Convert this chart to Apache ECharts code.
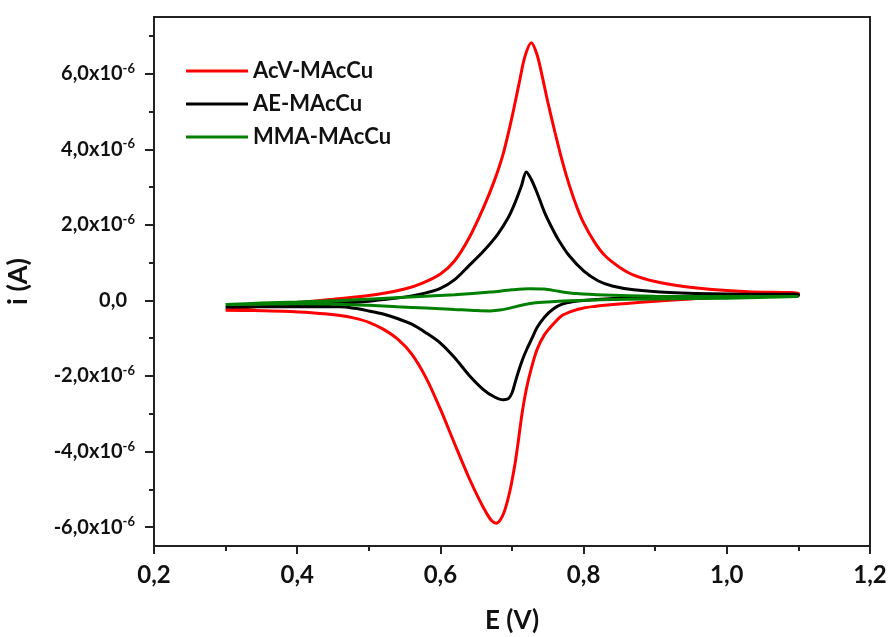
<!DOCTYPE html>
<html>
<head>
<meta charset="utf-8">
<script src="https://cdn.jsdelivr.net/npm/echarts@6/dist/echarts.min.js"></script>
<style>
html,body{margin:0;padding:0;background:#ffffff;}
#chart{width:890px;height:637px;}
</style>
</head>
<body>
<div id="chart"></div>
<script>
// ---- data (current in µA, potential in V) ----
const seriesNames = ['AcV-MAcCu', 'AE-MAcCu', 'MMA-MAcCu'];

// AcV-MAcCu : forward scan 0.3 -> 1.1 V, then reverse 1.1 -> 0.3 V
const acvE = [0.30,0.35,0.40,0.45,0.50,0.525,0.55,0.575,0.60,0.62,0.64,0.66,0.675,0.688,0.70,0.71,0.718,0.727,0.735,0.742,0.75,0.76,0.77,0.78,0.79,0.80,0.815,0.83,0.85,0.87,0.90,0.94,0.98,1.03,1.10,
  1.10,1.00,0.95,0.90,0.86,0.83,0.815,0.80,0.786,0.77,0.758,0.745,0.735,0.727,0.72,0.714,0.709,0.704,0.697,0.69,0.684,0.678,0.672,0.665,0.655,0.64,0.62,0.60,0.58,0.56,0.54,0.52,0.50,0.48,0.46,0.42,0.38,0.34,0.30];
const acvI = [-0.26,-0.15,-0.06,0.03,0.13,0.20,0.30,0.46,0.70,1.05,1.65,2.45,3.15,3.90,4.85,5.75,6.45,6.82,6.50,5.95,5.25,4.45,3.70,3.05,2.50,2.05,1.55,1.18,0.88,0.67,0.50,0.37,0.29,0.23,0.19,
  0.14,0.09,0.04,-0.02,-0.08,-0.13,-0.16,-0.20,-0.27,-0.40,-0.62,-0.92,-1.30,-1.80,-2.35,-3.00,-3.70,-4.35,-5.05,-5.55,-5.80,-5.90,-5.84,-5.65,-5.30,-4.70,-3.80,-2.88,-2.05,-1.42,-1.02,-0.76,-0.58,-0.47,-0.40,-0.33,-0.29,-0.27,-0.26];

// AE-MAcCu
const aeE = [0.30,0.35,0.40,0.45,0.50,0.53,0.56,0.58,0.60,0.62,0.64,0.66,0.68,0.695,0.705,0.713,0.72,0.727,0.735,0.745,0.755,0.765,0.78,0.80,0.82,0.84,0.87,0.92,1.00,1.10,
  1.10,1.00,0.90,0.85,0.823,0.80,0.786,0.77,0.758,0.745,0.735,0.728,0.721,0.715,0.709,0.704,0.70,0.695,0.688,0.675,0.66,0.64,0.62,0.60,0.58,0.56,0.54,0.52,0.50,0.48,0.46,0.40,0.35,0.30];
const aeI = [-0.18,-0.16,-0.13,-0.08,-0.02,0.04,0.12,0.20,0.32,0.55,0.92,1.30,1.75,2.20,2.62,3.02,3.40,3.20,2.85,2.35,1.95,1.60,1.18,0.78,0.52,0.38,0.28,0.21,0.17,0.16,
  0.12,0.10,0.08,0.06,0.03,0.00,-0.03,-0.10,-0.22,-0.45,-0.72,-1.00,-1.28,-1.55,-1.88,-2.20,-2.45,-2.60,-2.63,-2.55,-2.36,-1.98,-1.52,-1.13,-0.86,-0.63,-0.48,-0.36,-0.28,-0.21,-0.17,-0.17,-0.17,-0.18];

// MMA-MAcCu
const mmaE = [0.30,0.35,0.40,0.46,0.55,0.62,0.67,0.70,0.725,0.745,0.765,0.79,0.83,0.90,1.00,1.10,
  1.10,1.00,0.90,0.823,0.78,0.75,0.73,0.715,0.70,0.685,0.67,0.65,0.62,0.58,0.54,0.50,0.46,0.40,0.35,0.30];
const mmaI = [-0.11,-0.07,-0.04,0.00,0.08,0.15,0.22,0.28,0.31,0.30,0.24,0.18,0.14,0.11,0.10,0.10,
  0.09,0.06,0.04,0.02,-0.01,-0.04,-0.07,-0.12,-0.19,-0.25,-0.28,-0.27,-0.24,-0.20,-0.17,-0.13,-0.10,-0.09,-0.10,-0.11];

const seriesColors = ['#ff0000', '#000000', '#008000'];

// ---- axes ----
const xMin = 0.2, xMax = 1.2, xStep = 0.2;
const yMin = -6.5, yMax = 7.5;
const yMajorTicks = [-6, -4, -2, 0, 2, 4, 6];
const yMinorTicks = [-5, -3, -1, 1, 3, 5, 7];
const yExponent = '-6';

function pairs(xs, ys) { return xs.map((x, k) => [x, ys[k]]); }

const FONT = 'Lato, "Open Sans", "DejaVu Sans", sans-serif';
const INK = '#111';

const chart = echarts.init(document.getElementById('chart'), null, {renderer: 'canvas'});

const option = {
  backgroundColor: '#ffffff',
  animation: false,
  grid: {left: 154, right: 20, top: 17, bottom: 91, outerBoundsMode: 'none', containLabel: false,
    show: true, borderColor: '#222', borderWidth: 2, backgroundColor: 'transparent'},
  legend: {
    data: seriesNames,
    orient: 'vertical',
    left: 181, top: 55,
    icon: 'rect',
    itemWidth: 62, itemHeight: 3,
    itemGap: 11,
    textStyle: {fontFamily: FONT, fontWeight: 'bold', fontSize: 22, color: INK}
  },
  xAxis: {
    type: 'value', min: xMin, max: xMax, interval: xStep,
    name: 'E (V)', nameLocation: 'middle', nameGap: 62,
    nameTextStyle: {fontFamily: FONT, fontWeight: 'bold', fontSize: 26, color: INK},
    axisLine: {show: true, onZero: false, lineStyle: {color: '#222', width: 2}},
    axisTick: {show: true, inside: false, length: 8, lineStyle: {color: '#222', width: 2}},
    minorTick: {show: true, splitNumber: 2, length: 5, lineStyle: {color: '#222', width: 2}},
    splitLine: {show: false},
    axisLabel: {margin: 17, fontFamily: FONT, fontWeight: 'bold', fontSize: 24, color: INK,
      formatter: v => v.toFixed(1).replace('.', ',')}
  },
  yAxis: [{
    type: 'value', min: yMin, max: yMax,
    name: 'i (A)', nameLocation: 'middle', nameGap: 122,
    nameTextStyle: {fontFamily: FONT, fontWeight: 'bold', fontSize: 27, color: INK},
    axisLine: {show: true, onZero: false, lineStyle: {color: '#222', width: 2}},
    axisTick: {show: true, inside: false, length: 9, customValues: yMajorTicks, lineStyle: {color: '#222', width: 2}},
    splitLine: {show: false},
    axisLabel: {
      margin: 19, customValues: yMajorTicks,
      formatter: v => {
        const r = Math.round(v);
        if (r === 0) return '{z|0,0}';
        return '{m|' + r.toFixed(1).replace('.', ',') + 'x10}{s|' + yExponent + '}';
      },
      rich: {
        m: {fontFamily: FONT, fontWeight: 'bold', fontSize: 20, color: INK},
        z: {fontFamily: FONT, fontWeight: 'bold', fontSize: 20, color: INK, padding: [0, 8, 0, 0]},
        s: {fontFamily: FONT, fontWeight: 'bold', fontSize: 13, color: INK, verticalAlign: 'top', padding: [0, 0, 10, 0]}
      }
    }
  }, {
    type: 'value', min: yMin, max: yMax, position: 'left',
    axisLine: {show: false},
    axisTick: {show: true, inside: false, length: 5, customValues: yMinorTicks, lineStyle: {color: '#222', width: 2}},
    axisLabel: {show: false},
    splitLine: {show: false}
  }],
  series: seriesNames.map((name, k) => ({
    name: name,
    type: 'line',
    yAxisIndex: 0,
    data: pairs([acvE, aeE, mmaE][k], [acvI, aeI, mmaI][k]),
    showSymbol: false,
    symbol: 'none',
    smooth: 0.3,
    lineStyle: {color: seriesColors[k], width: 3},
    itemStyle: {color: seriesColors[k]},
    z: 2 + k
  }))
};
chart.setOption(option);
</script>
</body>
</html>
